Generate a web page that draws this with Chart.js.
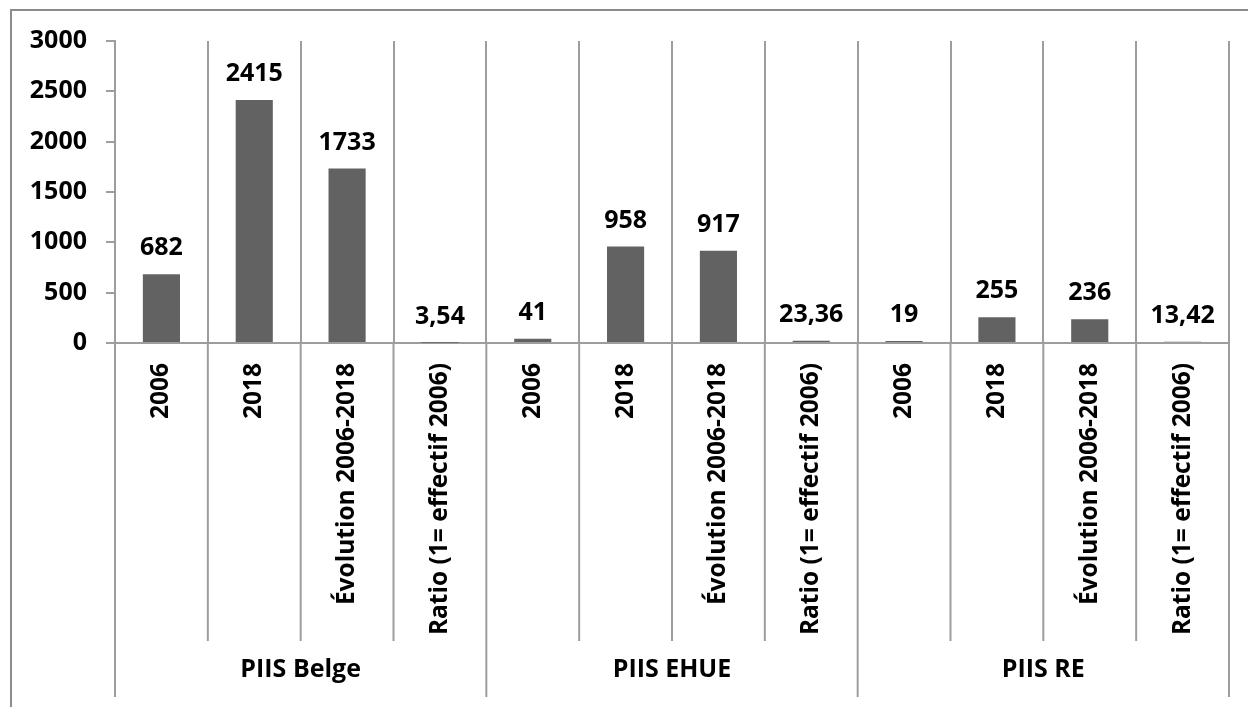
<!DOCTYPE html>
<html>
<head>
<meta charset="utf-8">
<script src="https://cdn.jsdelivr.net/npm/chart.js@4"></script>
<style>
  body { margin: 0; background: #fff; }
  #wrap { position: relative; width: 1248px; height: 707px; overflow: hidden; }
  #frame { position: absolute; left: 10px; top: 9px; width: 1400px; height: 900px; border: 2px solid #8c8c8c; }
  #piis-chart { position: absolute; left: 0; top: 0; }
</style>
</head>
<body>
<div id="wrap">
  <div id="frame"></div>
  <canvas id="piis-chart" width="1248" height="707"></canvas>
</div>
<script>
// categories
var groups = ["PIIS Belge", "PIIS EHUE", "PIIS RE"];
var subLabels = ["2006", "2018", "Évolution 2006-2018", "Ratio (1= effectif 2006)"];

// values, 4 per group
var belge = [682, 2415, 1733, 3.54];
var ehue = [41, 958, 917, 23.36];
var re = [19, 255, 236, 13.42];

var yTicks = [0, 500, 1000, 1500, 2000, 2500, 3000];

var labels = [];
groups.forEach(function(){ labels = labels.concat(subLabels); });
var values = belge.concat(ehue, re);

var lineCol = "#9d9d9d";
var fontFam = "'Open Sans'";
var fontW = "bold";
var fontSz = 25;

// labels above the bars + the lines/group names under the axis
var extras = {
  id: "extras",
  afterDraw: function(chart){
    var ctx = chart.ctx;
    var xs = chart.scales.x;
    var meta = chart.getDatasetMeta(0);

    ctx.save();
    ctx.fillStyle = "#000";
    ctx.font = fontW + " " + fontSz + "px " + fontFam;
    ctx.textAlign = "center";
    ctx.textBaseline = "alphabetic";
    meta.data.forEach(function(bar, i){
      var txt = String(values[i]).replace(".", ",");
      ctx.fillText(txt, bar.x, bar.y - 19);
    });

    var w = xs.getPixelForTick(1) - xs.getPixelForTick(0);
    var n = labels.length;
    ctx.strokeStyle = lineCol;
    ctx.lineWidth = 2;
    for (var i = 0; i <= n; i++) {
      var x = (i < n ? xs.getPixelForTick(i) : xs.getPixelForTick(n - 1) + w) - w / 2;
      var end = (i % subLabels.length == 0) ? xs.bottom + 56 : xs.bottom;
      ctx.beginPath();
      ctx.moveTo(x, chart.chartArea.bottom);
      ctx.lineTo(x, end);
      ctx.stroke();
    }

    ctx.textBaseline = "middle";
    groups.forEach(function(g, k){
      var a = xs.getPixelForTick(k * subLabels.length) - w / 2;
      var b = xs.getPixelForTick(k * subLabels.length + subLabels.length - 1) + w / 2;
      ctx.fillText(g, (a + b) / 2, xs.bottom + 29);
    });
    ctx.restore();
  }
};

new Chart(document.getElementById("piis-chart"), {
  type: "bar",
  data: {
    labels: labels,
    datasets: [{
      data: values,
      backgroundColor: "#626262",
      barPercentage: 0.4,
      categoryPercentage: 1
    }]
  },
  options: {
    responsive: false,
    animation: false,
    layout: { padding: { left: 0, right: 19, top: 41, bottom: 66 } },
    plugins: {
      legend: { display: false },
      tooltip: { enabled: false }
    },
    scales: {
      x: {
        afterFit: function(s){ s.height = 298; },
        grid: { offset: true, color: lineCol, lineWidth: 2, drawTicks: false },
        border: { display: true, color: lineCol, width: 2 },
        ticks: {
          color: "#000",
          font: { family: fontFam, size: 24.5, weight: fontW },
          minRotation: 90,
          maxRotation: 90,
          autoSkip: false,
          padding: 20
        }
      },
      y: {
        min: 0,
        max: 3000,
        afterFit: function(s){ s.width = 115; },
        afterBuildTicks: function(s){ s.ticks = yTicks.map(function(v){ return { value: v }; }); },
        grid: { drawOnChartArea: false, color: lineCol, lineWidth: 2, tickLength: 9 },
        border: { display: true, color: lineCol, width: 2 },
        ticks: {
          color: "#000",
          font: { family: fontFam, size: fontSz, weight: fontW },
          padding: 19,
          callback: function(v){ return String(v); }
        }
      }
    }
  },
  plugins: [extras]
});
</script>
</body>
</html>
